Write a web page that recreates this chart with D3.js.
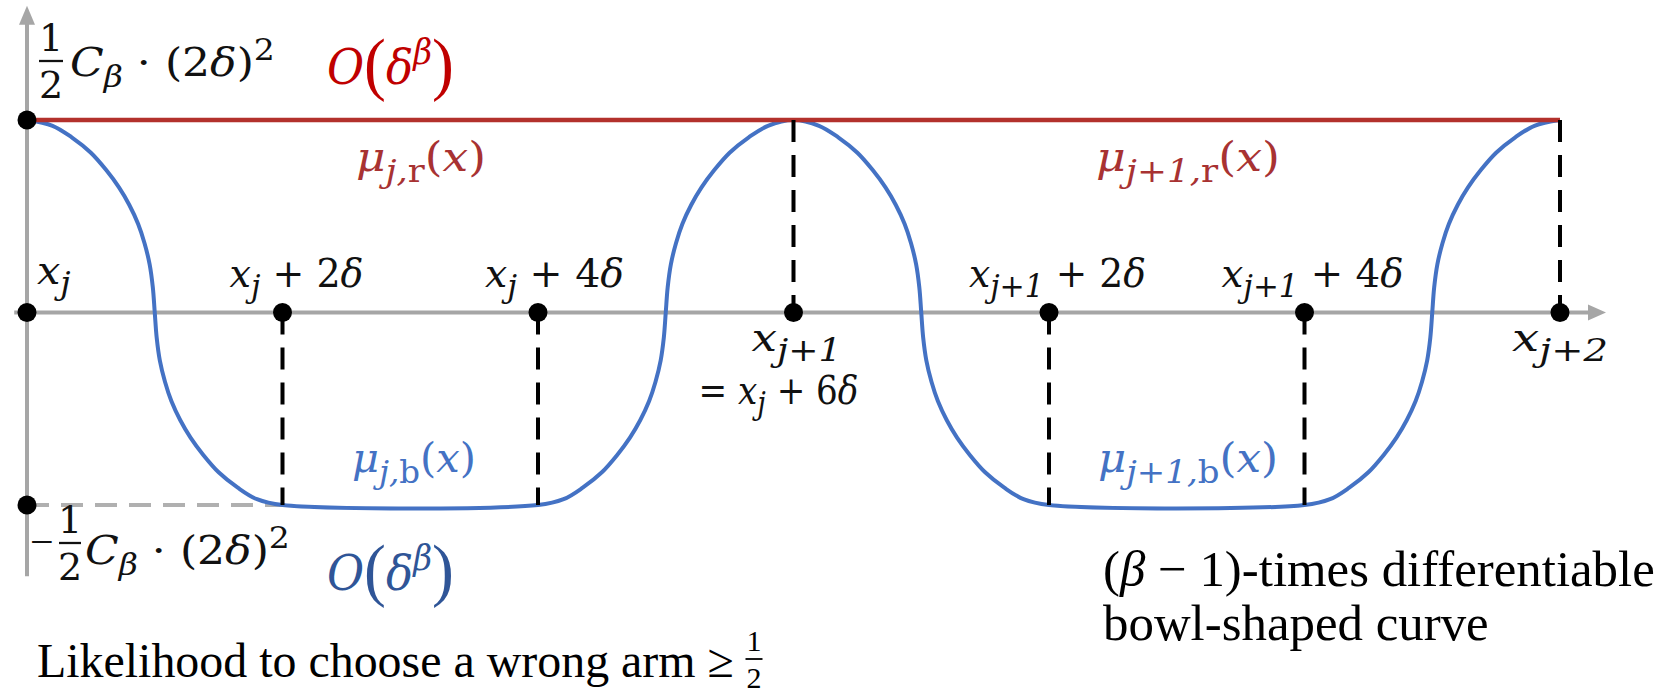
<!DOCTYPE html>
<html><head><meta charset="utf-8">
<script src="https://cdn.jsdelivr.net/npm/d3@7"></script>
<style>
html,body{margin:0;padding:0;background:#fff;}
svg{display:block;}
text{font-family:"DejaVu Serif",serif;}
.times{font-family:"Liberation Serif","Times New Roman",serif;}
</style></head>
<body>
<svg id="chart" width="1670" height="695"></svg>
<script>
// ---------------- data (x in units of δ from x_j, y in units of ½Cβ(2δ)²) ----------------
const tickPositions = [0, 2, 4, 6, 8, 10, 12];
const redLevel = [{x: 0, y: 1}, {x: 12, y: 1}];
// blue bowl-shaped curve
const blueCurve = [
  [0,1],[0.2,0.97],[0.35,0.91],[0.5,0.83],[0.62,0.74],[0.72,0.65],[0.8,0.56],[0.87,0.46],[0.92,0.36],[0.96,0.25],[0.985,0.13],[1,0],
  [1.015,-0.13],[1.04,-0.25],[1.08,-0.36],[1.13,-0.46],[1.2,-0.56],[1.28,-0.65],[1.38,-0.74],[1.5,-0.83],[1.65,-0.91],[1.8,-0.97],[2,-1],
  [4,-1],
  [4.2,-0.97],[4.35,-0.91],[4.5,-0.83],[4.62,-0.74],[4.72,-0.65],[4.8,-0.56],[4.87,-0.46],[4.92,-0.36],[4.96,-0.25],[4.985,-0.13],[5,0],
  [5.015,0.13],[5.04,0.25],[5.08,0.36],[5.13,0.46],[5.2,0.56],[5.28,0.65],[5.38,0.74],[5.5,0.83],[5.65,0.91],[5.8,0.97],[6,1],
  [6.2,0.97],[6.35,0.91],[6.5,0.83],[6.62,0.74],[6.72,0.65],[6.8,0.56],[6.87,0.46],[6.92,0.36],[6.96,0.25],[6.985,0.13],[7,0],
  [7.015,-0.13],[7.04,-0.25],[7.08,-0.36],[7.13,-0.46],[7.2,-0.56],[7.28,-0.65],[7.38,-0.74],[7.5,-0.83],[7.65,-0.91],[7.8,-0.97],[8,-1],
  [10,-1],
  [10.2,-0.97],[10.35,-0.91],[10.5,-0.83],[10.62,-0.74],[10.72,-0.65],[10.8,-0.56],[10.87,-0.46],[10.92,-0.36],[10.96,-0.25],[10.985,-0.13],[11,0],
  [11.015,0.13],[11.04,0.25],[11.08,0.36],[11.13,0.46],[11.2,0.56],[11.28,0.65],[11.38,0.74],[11.5,0.83],[11.65,0.91],[11.8,0.97],[12,1]
];
// vertical dashed guides: [x, yFrom, yTo]
const dashedGuides = [[2,0,-1],[4,0,-1],[6,1,0],[8,0,-1],[10,0,-1],[12,1,0]];
const grayGuide = [[0,-1],[2,-1]];
const dots = [[0,1],[0,0],[0,-1],[2,0],[4,0],[6,0],[8,0],[10,0],[12,0]];
const xAxisExtent = [-0.1, 12.0];
const yAxisExtent = [-1.37, 1.5];

// tick labels: parts = [text, italic?, mode]
const tickLabelX = [0, 2, 4, 6, 6, 8, 10, 12];
const tickLabelParts = [
  [["x",1],["j",1,"sub"]],
  [["x",1],["j",1,"sub"],[" + 2",0],["δ",1]],
  [["x",1],["j",1,"sub"],[" + 4",0],["δ",1]],
  [["x",1],["j+1",1,"sub"]],
  [["= ",0],["x",1],["j",1,"sub"],[" + 6",0],["δ",1]],
  [["x",1],["j+1",1,"sub"],[" + 2",0],["δ",1]],
  [["x",1],["j+1",1,"sub"],[" + 4",0],["δ",1]],
  [["x",1],["j+2",1,"sub"]]
];
const valueLabelParts = [["C",1],["β",1,"sub"],[" · (2",0],["δ",1],[")",0],["2",0,"sup"]];
const orderParts = [["O",1],["(",0,"paren"],["δ",1],["β",1,"sup"],[")",0,"paren"]];
const curveLabels = [
  {color: "red",  parts: [["μ",1],["j,",1,"sub"],["r",0,"sub"],["(",0],["x",1],[")",0]]},
  {color: "red",  parts: [["μ",1],["j+1,",1,"sub"],["r",0,"sub"],["(",0],["x",1],[")",0]]},
  {color: "blue", parts: [["μ",1],["j,",1,"sub"],["b",0,"sub"],["(",0],["x",1],[")",0]]},
  {color: "blue", parts: [["μ",1],["j+1,",1,"sub"],["b",0,"sub"],["(",0],["x",1],[")",0]]}
];
const noteLines = ["(β − 1)-times differentiable", "bowl-shaped curve"];
const bottomText = "Likelihood to choose a wrong arm ≥";

// ---------------- layout (pixel offsets / target widths) ----------------
const tickLayout = [ // [dx from tick, dy from axis (baseline), target width]
  [10,-29,34],[-53,-26,134],[-53,-26,139],[-42,38,90],[-95,91,160],[-80,-26,177],[-83,-26,182],[-48,38,96]
];
const curveLayout = [ // [left, baseline, width]
  [356,171,130],[1096,171,184],[352,472,124],[1098,472,180]
];

// ---------------- drawing ----------------
const svg = d3.select("#chart");
const x = d3.scaleLinear().domain([0, 12]).range([27, 1560]);
const y = d3.scaleLinear().domain([-1, 1]).range([505, 120]);

const AXIS = "#a6a6a6", BLUE = "#4472c4", RED = "#b3312c", BLACK = "#000";

// axes
const xEnd = x(xAxisExtent[1]) + 28;
svg.append("line").attr("x1", x(xAxisExtent[0])).attr("x2", xEnd)
  .attr("y1", y(0)).attr("y2", y(0)).attr("stroke", AXIS).attr("stroke-width", 4);
svg.append("path").attr("fill", AXIS)
  .attr("d", `M${xEnd + 18},${y(0)} L${xEnd},${y(0) - 8} L${xEnd},${y(0) + 8} Z`);
const yTop = y(yAxisExtent[1]);
svg.append("line").attr("x1", x(0)).attr("x2", x(0))
  .attr("y1", y(yAxisExtent[0])).attr("y2", yTop).attr("stroke", AXIS).attr("stroke-width", 4);
svg.append("path").attr("fill", AXIS)
  .attr("d", `M${x(0)},${yTop - 18} L${x(0) - 8},${yTop + 1} L${x(0) + 8},${yTop + 1} Z`);

// gray dashed level
svg.append("line").attr("x1", x(grayGuide[0][0])).attr("x2", x(grayGuide[1][0]))
  .attr("y1", y(grayGuide[0][1])).attr("y2", y(grayGuide[1][1]))
  .attr("stroke", "#b0b0b0").attr("stroke-width", 4).attr("stroke-dasharray", "22 12");

// blue curve
const line = d3.line().x(d => x(d[0])).y(d => y(d[1])).curve(d3.curveCatmullRom.alpha(0.5));
svg.append("path").datum(blueCurve).attr("d", line)
  .attr("fill", "none").attr("stroke", BLUE).attr("stroke-width", 4);

// red line
svg.append("line").attr("x1", x(redLevel[0].x)).attr("x2", x(redLevel[1].x))
  .attr("y1", y(redLevel[0].y)).attr("y2", y(redLevel[1].y))
  .attr("stroke", RED).attr("stroke-width", 4.5);

// black dashed guides
svg.selectAll(".guide").data(dashedGuides).enter().append("line")
  .attr("x1", d => x(d[0])).attr("x2", d => x(d[0]))
  .attr("y1", d => y(d[1])).attr("y2", d => y(d[2]))
  .attr("stroke", BLACK).attr("stroke-width", 4).attr("stroke-dasharray", "22 13");

// dots
svg.selectAll(".dot").data(dots).enter().append("circle")
  .attr("cx", d => x(d[0])).attr("cy", d => y(d[1])).attr("r", 9.5).attr("fill", BLACK);

// ---------------- text helpers ----------------
function math(left, base, parts, size, fill, targetW, subScale) {
  const g = svg.append("g");
  const t = g.append("text").attr("x", 0).attr("y", 0).attr("fill", fill).style("font-size", size + "px");
  const ss = subScale || 0.78;
  let cur = 0;
  parts.forEach(p => {
    const [txt, it, mode] = p;
    let shift = 0, fs = size, fam = null;
    if (mode === "sub") { shift = 0.28 * size; fs = ss * size; }
    if (mode === "sup") { shift = -0.42 * size; fs = ss * size; }
    if (mode === "paren") { shift = 0.06 * size; fs = 1.45 * size; fam = "Liberation Serif"; }
    const ts = t.append("tspan").attr("dy", shift - cur).style("font-size", fs + "px")
      .style("font-style", it ? "italic" : "normal").text(txt);
    if (fam) ts.style("font-family", fam);
    cur = shift;
  });
  fit(g, t, left, base, targetW);
  return g;
}
function fit(g, t, left, base, targetW) {
  const bb = t.node().getBBox();
  const sx = targetW ? targetW / bb.width : 1;
  g.attr("transform", `translate(${left - bb.x * sx},${base}) scale(${sx},1)`);
}
// plain text whose font size is chosen so that it spans targetW
function plain(left, base, content, targetW) {
  const t = svg.append("text").attr("class", "times").attr("x", left).attr("y", base)
    .attr("fill", "#000").style("font-size", "40px");
  content(t);
  const w = t.node().getBBox().width;
  const fs = 40 * targetW / w;
  t.style("font-size", fs + "px");
  return {t, w, fs};
}
function fraction(cx, barY, num, den, size, fill, barW, family) {
  const a = svg.append("text").attr("x", cx).attr("y", barY - 0.26 * size).attr("text-anchor", "middle")
    .attr("fill", fill).style("font-size", size + "px").text(num);
  svg.append("line").attr("x1", cx - barW / 2).attr("x2", cx + barW / 2).attr("y1", barY).attr("y2", barY)
    .attr("stroke", fill).attr("stroke-width", Math.max(1.5, size * 0.06));
  const b = svg.append("text").attr("x", cx).attr("y", barY + 0.98 * size).attr("text-anchor", "middle")
    .attr("fill", fill).style("font-size", size + "px").text(den);
  if (family) { a.style("font-family", family); b.style("font-family", family); }
}

// tick labels
tickLabelParts.forEach((parts, i) => {
  const L = tickLayout[i];
  math(x(tickLabelX[i]) + L[0], y(0) + L[1], parts, 39, "#111", L[2], 0.8);
});

// top-left value label  ½ Cβ·(2δ)²
fraction(51, 61, "1", "2", 38, "#111", 24);
math(70, 76, valueLabelParts, 39, "#111", 205, 0.75);
// bottom-left value label  −½ Cβ·(2δ)²
svg.append("text").attr("class", "times").attr("x", 30).attr("y", 556).attr("fill", "#111")
  .style("font-size", "42px").text("−");
fraction(70, 543, "1", "2", 38, "#111", 22);
math(85, 564, valueLabelParts, 39, "#111", 205, 0.75);

// order-of-magnitude labels
math(327, 84, orderParts, 48, "#c00000", 127, 0.72);
math(327, 590, orderParts, 48, "#2f5597", 127, 0.72);

// curve labels
curveLabels.forEach((c, i) => {
  const L = curveLayout[i];
  math(L[0], L[1], c.parts, 41, c.color === "red" ? "#a83232" : BLUE, L[2], 0.78);
});

// explanatory text (right), font size chosen so line 1 spans the reference width
const n1 = plain(1103, 586, t => {
  t.append("tspan").text(noteLines[0].slice(0, 1));
  t.append("tspan").style("font-style", "italic").text(noteLines[0].slice(1, 2));
  t.append("tspan").text(noteLines[0].slice(2));
}, 552);
svg.append("text").attr("class", "times").attr("x", 1103).attr("y", 640)
  .attr("fill", "#000").style("font-size", n1.fs + "px").text(noteLines[1]);

// bottom text
plain(37, 677, t => t.text(bottomText), 697);
fraction(754, 659, "1", "2", 30, "#000", 17, "Liberation Serif");
</script>
</body></html>
